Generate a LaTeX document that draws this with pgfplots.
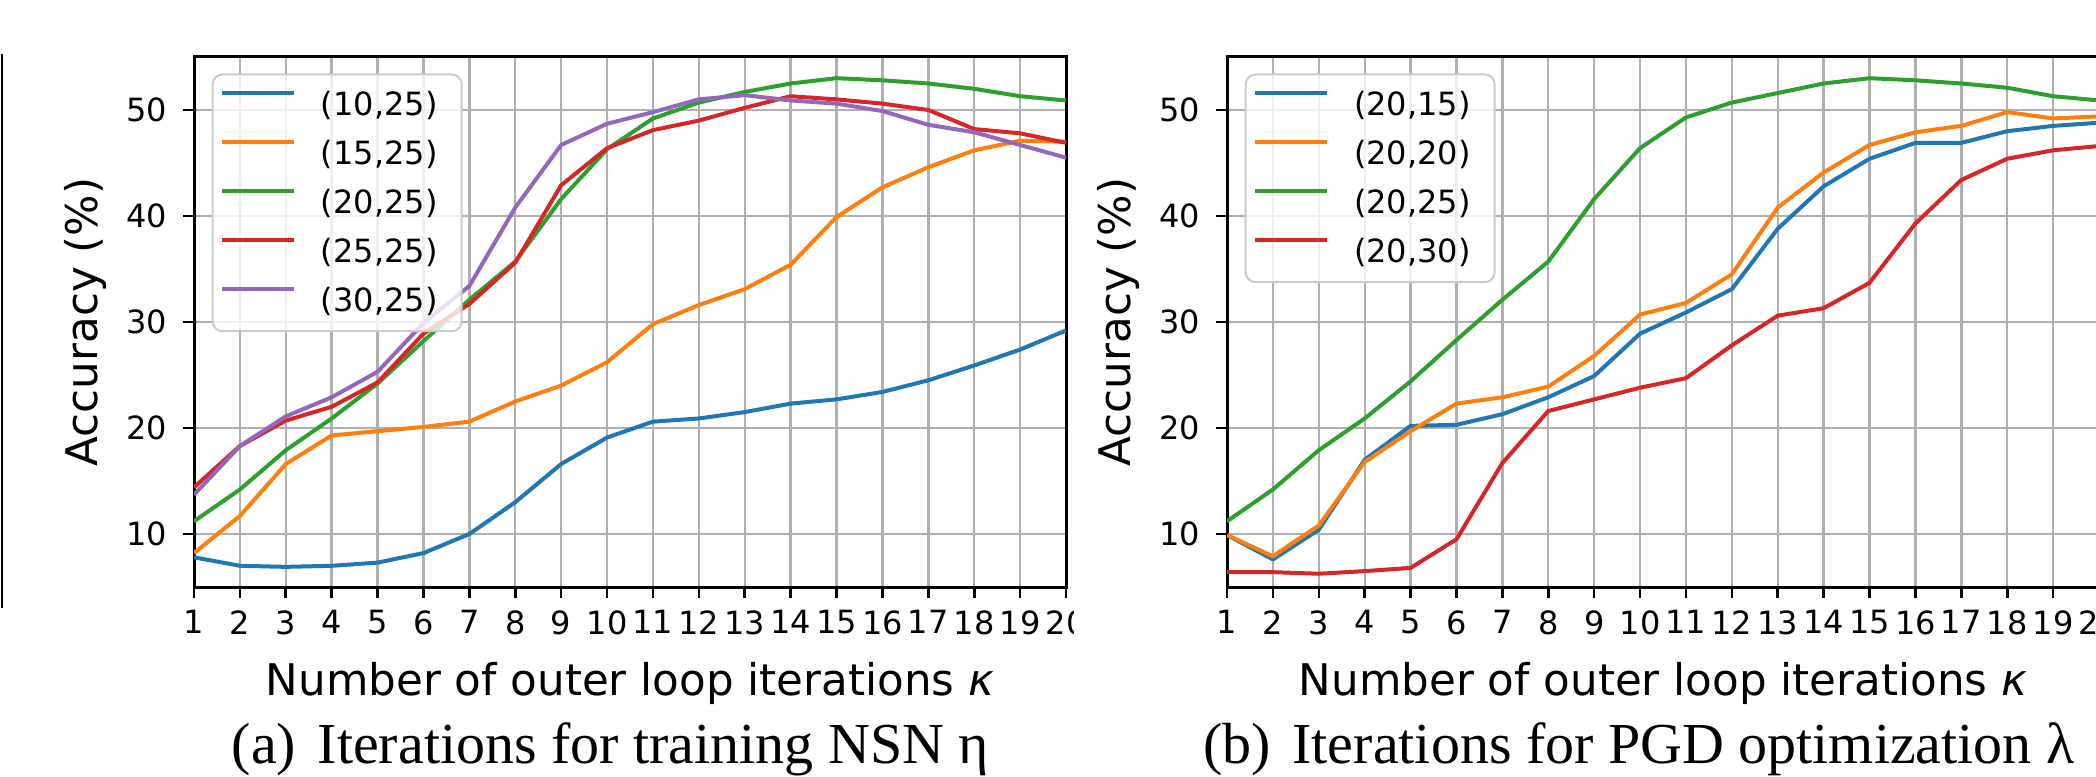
\documentclass[border=0pt]{standalone}
\usepackage{fontspec}
\setmainfont{DejaVu Sans}
\newfontfamily\capfont{Liberation Serif}
\usepackage{pgfplots}
\pgfplotsset{compat=1.18}
\definecolor{c0}{HTML}{1F77B4}
\definecolor{c1}{HTML}{FF7F0E}
\definecolor{c2}{HTML}{2CA02C}
\definecolor{c3}{HTML}{D62728}
\definecolor{c4}{HTML}{9467BD}
\definecolor{gridgray}{HTML}{B0B0B0}
\newcommand{\tickfont}{\fontsize{16}{19}\selectfont}
\newcommand{\labfont}{\fontsize{21.8}{26}\selectfont}
\newcommand{\lastpad}{\rule[-4.7pt]{0pt}{1pt}}
\pgfplotsset{
  myaxis/.style={
    scale only axis, width=436pt, height=265pt,
    xmin=1, xmax=20, ymin=5, ymax=55,
    xtick={1,...,20}, ytick={10,20,30,40,50},
    grid=major, major grid style={color=gridgray, line width=1.2pt},
    axis line style={line width=1.5pt, black},
    tick align=outside, major tick length=5.5pt, tick pos=left,
    every tick/.style={line width=1.3pt, black},
    /pgf/number format/assume math mode=true,
    tick label style={font=\tickfont},
    xticklabel style={inner sep=0pt, anchor=north, yshift=-6pt},
    yticklabel style={inner sep=0pt, anchor=east, xshift=-7.9pt},
    xlabel style={font=\labfont, at={(0.5,-0.2038)}, anchor=base},
    ylabel style={font=\labfont, at={(-0.1239,0.5)}, anchor=center},
    xlabel={Number of outer loop iterations \textit{κ}},
    ylabel={Accuracy (\%)},
    every axis plot/.append style={line width=2pt, line join=round, no markers},
    legend cell align=left,
    legend image code/.code={\draw[##1, line width=2pt] (0pt,5.8pt) -- (36pt,5.8pt);},
    legend style={
      at={(0.0203,0.969)}, anchor=north west,
      draw=black!20, line width=1pt, rounded corners=5pt,
      fill=white, fill opacity=0.8, text opacity=1,
      inner xsep=3.65pt, inner ysep=8.3pt,
      font=\tickfont, row sep=10.9pt, column sep=12.5pt,
      nodes={inner sep=0pt},
    },
  }
}
\begin{document}
\begin{tikzpicture}
\path[use as bounding box] (0,0) rectangle (1048pt,388pt);
\clip (0,0) rectangle (1048pt,388pt);
\draw[line width=1pt, black] (0.75pt,84pt) -- (0.75pt,361pt);
\begin{scope}
\clip (0,0) rectangle (536.5pt,388pt);
\begin{axis}[myaxis, at={(97pt,94.5pt)}, anchor=south west]
\addplot[c0] coordinates {(1,7.8) (2,7.0) (3,6.9) (4,7.0) (5,7.3) (6,8.2) (7,10.0) (8,13.0) (9,16.6) (10,19.1) (11,20.6) (12,20.9) (13,21.5) (14,22.3) (15,22.7) (16,23.4) (17,24.5) (18,25.9) (19,27.4) (20,29.2)};
\addlegendentry{(10,25)\hspace{8.4pt}}
\addplot[c1] coordinates {(1,8.2) (2,11.7) (3,16.6) (4,19.3) (5,19.7) (6,20.1) (7,20.6) (8,22.5) (9,24.0) (10,26.2) (11,29.8) (12,31.6) (13,33.1) (14,35.4) (15,39.9) (16,42.7) (17,44.6) (18,46.2) (19,47.1) (20,47.0)};
\addlegendentry{(15,25)\hspace{8.4pt}}
\addplot[c2] coordinates {(1,11.2) (2,14.2) (3,17.9) (4,20.9) (5,24.2) (6,28.2) (7,32.1) (8,35.7) (9,41.6) (10,46.3) (11,49.2) (12,50.7) (13,51.7) (14,52.5) (15,53.0) (16,52.8) (17,52.5) (18,52.0) (19,51.3) (20,50.9)};
\addlegendentry{(20,25)\hspace{8.4pt}}
\addplot[c3] coordinates {(1,14.4) (2,18.3) (3,20.7) (4,22.0) (5,24.3) (6,28.9) (7,31.7) (8,35.6) (9,42.9) (10,46.4) (11,48.1) (12,49.0) (13,50.2) (14,51.3) (15,51.0) (16,50.6) (17,50.0) (18,48.2) (19,47.8) (20,46.9)};
\addlegendentry{(25,25)\hspace{8.4pt}}
\addplot[c4] coordinates {(1,13.7) (2,18.3) (3,21.1) (4,22.9) (5,25.3) (6,29.9) (7,33.4) (8,40.8) (9,46.7) (10,48.7) (11,49.8) (12,51.0) (13,51.4) (14,50.9) (15,50.6) (16,49.9) (17,48.6) (18,47.9) (19,46.7) (20,45.5)};
\addlegendentry{(30,25)\hspace{8.4pt}\lastpad}
\end{axis}
\end{scope}
\begin{axis}[myaxis, at={(613.5pt,94.5pt)}, anchor=south west]
\addplot[c0] coordinates {(1,9.9) (2,7.6) (3,10.4) (4,17.0) (5,20.2) (6,20.3) (7,21.3) (8,22.9) (9,24.9) (10,28.9) (11,30.9) (12,33.1) (13,38.8) (14,42.8) (15,45.4) (16,46.9) (17,46.9) (18,48.0) (19,48.5) (20,48.8)};
\addlegendentry{(20,15)\hspace{8.4pt}}
\addplot[c1] coordinates {(1,9.9) (2,7.9) (3,10.8) (4,16.8) (5,19.7) (6,22.3) (7,22.9) (8,23.9) (9,26.8) (10,30.7) (11,31.8) (12,34.5) (13,40.8) (14,44.1) (15,46.7) (16,47.9) (17,48.5) (18,49.8) (19,49.2) (20,49.4)};
\addlegendentry{(20,20)\hspace{8.4pt}}
\addplot[c2] coordinates {(1,11.2) (2,14.2) (3,17.9) (4,20.9) (5,24.4) (6,28.3) (7,32.1) (8,35.7) (9,41.6) (10,46.4) (11,49.3) (12,50.7) (13,51.6) (14,52.5) (15,53.0) (16,52.8) (17,52.5) (18,52.1) (19,51.3) (20,50.9)};
\addlegendentry{(20,25)\hspace{8.4pt}}
\addplot[c3] coordinates {(1,6.4) (2,6.4) (3,6.25) (4,6.5) (5,6.8) (6,9.5) (7,16.7) (8,21.6) (9,22.7) (10,23.8) (11,24.7) (12,27.8) (13,30.6) (14,31.3) (15,33.7) (16,39.3) (17,43.4) (18,45.4) (19,46.2) (20,46.6)};
\addlegendentry{(20,30)\hspace{8.4pt}\lastpad}
\end{axis}
\node[anchor=base west, inner sep=0pt, font=\capfont\fontsize{29}{33}\selectfont] at (115.75pt,6.5pt) {(a)\hspace{3.5pt} Iterations for training NSN η};
\node[anchor=base west, inner sep=0pt, font=\capfont\fontsize{29}{33}\selectfont] at (601.5pt,6.5pt) {(b)\hspace{3.5pt} Iterations for PGD optimization λ};
\end{tikzpicture}
\end{document}
